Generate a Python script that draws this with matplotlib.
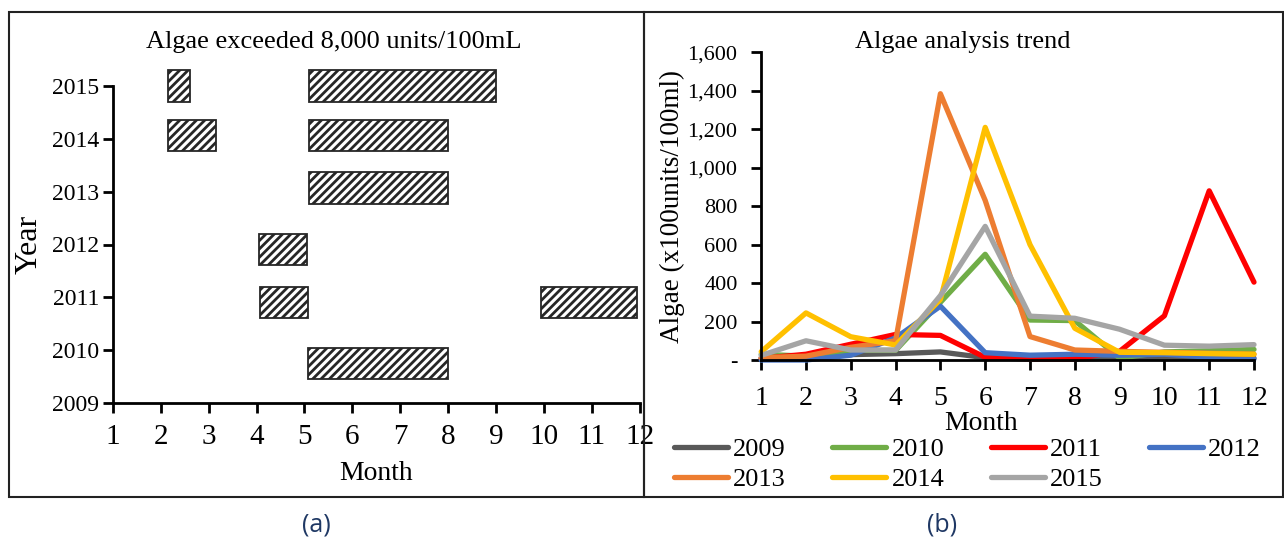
import numpy as np
import matplotlib.pyplot as plt
from matplotlib.patches import Rectangle

plt.rcParams['font.family'] = ['Liberation Serif', 'DejaVu Serif']
plt.rcParams['hatch.linewidth'] = 2.0

# ---- (a) periods where algae exceeded 8,000 units/100mL ----
bar_years = [2015.0, 2015.0, 2014.07, 2014.07, 2013.07, 2011.9, 2010.9, 2010.9, 2009.75]
bar_start = [2.15, 5.1, 2.15, 5.1, 5.1, 4.05, 4.07, 9.95, 5.07]
bar_end = [2.62, 9.0, 3.15, 8.0, 8.0, 5.05, 5.07, 11.95, 8.0]

# ---- (b) monthly algae trend (x100 units/100ml) ----
months = list(range(1, 13))
years = ['2009', '2010', '2011', '2012', '2013', '2014', '2015']
algae_2009 = [10, 10, 28, 33, 42, 12, 5, 5, 10, 15, 12, 10]
algae_2010 = [30, 20, 50, 50, 300, 550, 208, 205, 10, 42, 48, 55]
algae_2011 = [8, 30, 82, 133, 128, 14, 6, 6, 45, 230, 880, 405]
algae_2012 = [0, 0, 25, 115, 280, 38, 25, 30, 25, 30, 15, 5]
algae_2013 = [12, 20, 66, 100, 1385, 830, 122, 52, 45, 40, 35, 30]
algae_2014 = [43, 245, 121, 78, 315, 1210, 600, 165, 40, 38, 33, 30]
algae_2015 = [24, 100, 52, 52, 335, 695, 228, 217, 160, 77, 72, 80]
series = [algae_2009, algae_2010, algae_2011, algae_2012, algae_2013, algae_2014, algae_2015]
colors = ['#595959', '#70AD47', '#FF0000', '#4472C4', '#ED7D31', '#FFC000', '#A5A5A5']

W, H = 1284, 548
fig = plt.figure(figsize=(W / 100, H / 100), dpi=100)
fig.patch.set_facecolor('white')

# panel frames
for x0, x1 in [(9, 644), (644, 1283)]:
    fig.patches.append(Rectangle((x0 / W, 1 - 497 / H), (x1 - x0) / W, (497 - 12) / H,
                                 transform=fig.transFigure, fill=False,
                                 edgecolor='#222222', linewidth=1.5))

# --- left panel ---
ax1 = fig.add_axes([112.9 / W, 1 - 403 / H, (639.5 - 112.9) / W, (403 - 86) / H])
ax1.barh(bar_years, np.array(bar_end) - np.array(bar_start), left=bar_start, height=0.59,
         color='white', edgecolor='#262626', hatch='////', linewidth=1.3, clip_on=False)
ax1.set_xlim(1, 12)
ax1.set_ylim(2009, 2015)
ax1.set_xticks(months)
ax1.set_yticks(range(2009, 2016))
ax1.spines['top'].set_visible(False)
ax1.spines['right'].set_visible(False)
ax1.spines['left'].set_linewidth(2)
ax1.spines['bottom'].set_linewidth(2)
ax1.tick_params(axis='x', direction='out', length=7, width=2, labelsize=21, pad=8)
ax1.tick_params(axis='y', direction='out', length=7, width=2, labelsize=17, pad=3)
ax1.set_ylabel('Year', fontsize=23, labelpad=6)
fig.text(334 / W, 1 - 42 / H, 'Algae exceeded 8,000 units/100mL', ha='center', va='center', fontsize=19)
fig.text(376 / W, 1 - 474 / H, 'Month', ha='center', va='center', fontsize=20)

# --- right panel ---
ax2 = fig.add_axes([761.2 / W, 1 - 360 / H, (1254 - 761.2) / W, (360 - 52.4) / H])
lines = []
for yr, vals, c in zip(years, series, colors):
    ln, = ax2.plot(months, vals, color=c, linewidth=3.8, label=yr, solid_capstyle='round', clip_on=False)
    lines.append(ln)
ax2.set_xlim(1, 12)
ax2.set_ylim(0, 1600)
ax2.set_xticks(months)
ax2.set_yticks(range(0, 1601, 200))
ax2.set_yticklabels(['-'] + [f'{v:,}' for v in range(200, 1601, 200)])
ax2.spines['top'].set_visible(False)
ax2.spines['right'].set_visible(False)
ax2.spines['left'].set_linewidth(2)
ax2.spines['bottom'].set_linewidth(2)
ax2.tick_params(axis='x', direction='out', length=7, width=2, labelsize=20, pad=12)
ax2.tick_params(axis='y', direction='out', length=7, width=2, labelsize=16, pad=10)
ax2.set_ylabel('Algae (x100units/100ml)', fontsize=19.5, labelpad=2)
fig.text(963 / W, 1 - 42 / H, 'Algae analysis trend', ha='center', va='center', fontsize=19)
fig.text(981 / W, 1 - 424 / H, 'Month', ha='center', va='center', fontsize=20)

# legend filled row by row: 2009-2012 on top, 2013-2015 below
order = [0, 4, 1, 5, 2, 6, 3]
ax2.legend([lines[i] for i in order], [years[i] for i in order],
           loc='upper left', bbox_to_anchor=(674 / W, 1 - 438 / H), bbox_transform=fig.transFigure,
           ncol=4, frameon=False, fontsize=19, handlelength=2.05, handletextpad=0.2,
           columnspacing=1.75, labelspacing=0.22, borderaxespad=0, borderpad=0)

# panel captions
fig.text(316 / W, 1 - 525 / H, '(a)', ha='center', va='center', fontsize=18,
         color='#1F3864', family=['Open Sans', 'DejaVu Sans'])
fig.text(942 / W, 1 - 525 / H, '(b)', ha='center', va='center', fontsize=18,
         color='#1F3864', family=['Open Sans', 'DejaVu Sans'])

fig.savefig('out.png', dpi=100, facecolor='white')
